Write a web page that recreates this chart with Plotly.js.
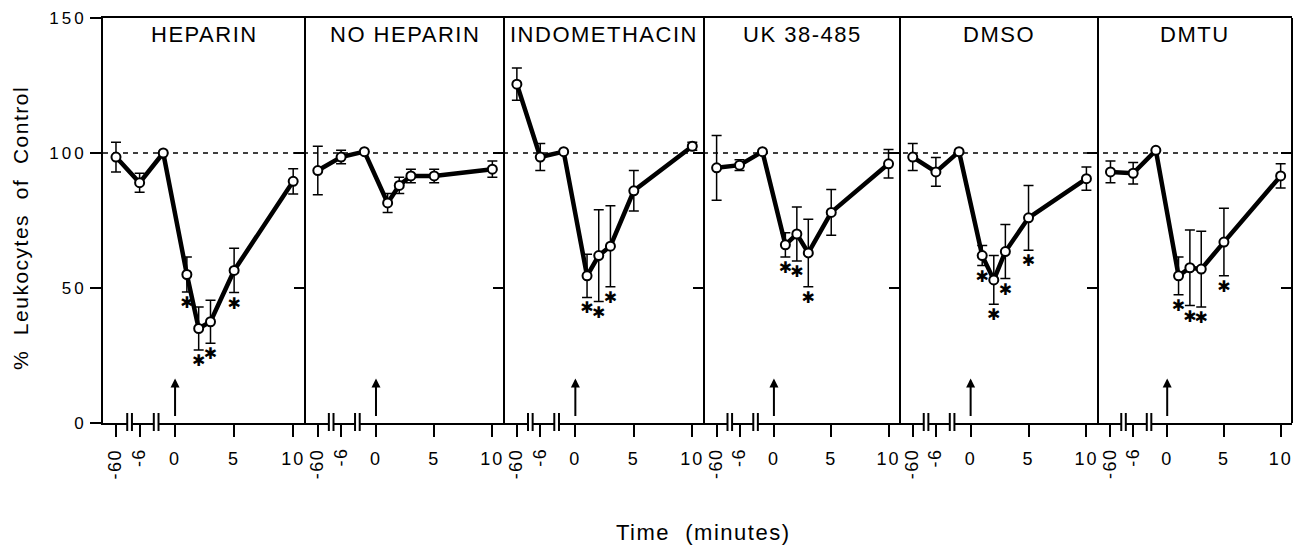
<!DOCTYPE html>
<html>
<head>
<meta charset="utf-8">
<script src="https://cdn.plot.ly/plotly-3.0.1.min.js"></script>
<style>
  html, body { margin: 0; padding: 0; background: #fff; }
  #chart { width: 1296px; height: 546px; }
  .yaxislayer-above text { letter-spacing: 3px; }
  .xaxislayer-above text { letter-spacing: 2px; }
  .annotation-text { letter-spacing: 1.5px; }
</style>
</head>
<body>
<div id="chart"></div>
<script>
// ---------------- data ----------------
const panelTitles = ["HEPARIN", "NO HEPARIN", "INDOMETHACIN", "UK 38-485", "DMSO", "DMTU"];
const times = [-60, -6, -1, 1, 2, 3, 5, 10];          // minutes
const tickTimes = [-60, -6, 0, 5, 10];
const tickLabels = ["-60", "-6", "0", "5", "10"];
const tickRotated = [true, true, false, false, false];
const yTicks = [0, 50, 100, 150];
const innerTicks = [50, 100];

const heparinMean = [98.5, 89, 100, 55, 35, 37.5, 56.5, 89.5];
const heparinErr  = [5.5, 3.5, 0, 6.5, 8, 8, 8.2, 4.7];
const heparinSig  = [0, 0, 0, 1, 1, 1, 1, 0];

const noHeparinMean = [93.5, 98.5, 100.5, 81.5, 88, 91.5, 91.5, 94];
const noHeparinErr  = [9, 2.5, 0, 3.5, 3, 2.5, 2.5, 3];
const noHeparinSig  = [0, 0, 0, 0, 0, 0, 0, 0];

const indoMean = [125.5, 98.5, 100.5, 54.5, 62, 65.5, 86, 102.5];
const indoErr  = [6, 5, 0, 8, 17, 15, 7.5, 1.5];
const indoSig  = [0, 0, 0, 1, 1, 1, 0, 0];

const ukMean = [94.5, 95.5, 100.5, 66, 70, 63, 78, 96];
const ukErr  = [12, 2, 0, 4.5, 10, 12.5, 8.5, 5.3];
const ukSig  = [0, 0, 0, 1, 1, 1, 0, 0];

const dmsoMean = [98.5, 93, 100.5, 62, 53, 63.5, 76, 90.5];
const dmsoErr  = [5, 5.3, 0, 3.7, 9, 10, 12, 4.3];
const dmsoSig  = [0, 0, 0, 1, 1, 1, 1, 0];

const dmtuMean = [93, 92.5, 101, 54.5, 57.5, 57, 67, 91.5];
const dmtuErr  = [4, 4, 0, 7, 14, 14, 12.5, 4.5];
const dmtuSig  = [0, 0, 0, 1, 1, 1, 1, 0];

const panelMeans = [heparinMean, noHeparinMean, indoMean, ukMean, dmsoMean, dmtuMean];
const panelErrs  = [heparinErr, noHeparinErr, indoErr, ukErr, dmsoErr, dmtuErr];
const panelSigs  = [heparinSig, noHeparinSig, indoSig, ukSig, dmsoSig, dmtuSig];

// ---------------- broken time scale ----------------
const scaleDomain = [-60, -6, -1, 10];
const scaleRange  = [-5, -3, -1, 10];
function timeScale(t) {
  for (let i = 0; i < scaleDomain.length - 1; i++) {
    const d0 = scaleDomain[i], d1 = scaleDomain[i + 1];
    if (t <= d1 || i === scaleDomain.length - 2) {
      const r0 = scaleRange[i], r1 = scaleRange[i + 1];
      return r0 + (t - d0) * (r1 - r0) / (d1 - d0);
    }
  }
}
const breakPositions = [-3.85, -1.6];   // axis-break marks (scaled units)
const breakHalf = 0.2;

// ---------------- geometry / style ----------------
const W = 1296, H = 546;
const M = { l: 103, r: 4, t: 18, b: 123 };
const plotH = H - M.t - M.b;
const plotW = W - M.l - M.r;
const nP = panelTitles.length;
const panelEdgesPx = [103, 305, 504, 704, 900, 1098, 1292];
const xRange = [-6.1, 11.0];
const yRange = [0, 150];
const unitsPerPx = (yRange[1] - yRange[0]) / plotH;
const FONT = "Liberation Sans, Arial, sans-serif";

const traces = [];
const layout = {
  width: W, height: H,
  margin: M,
  paper_bgcolor: "#fff", plot_bgcolor: "#fff",
  showlegend: false,
  font: { family: FONT, color: "#000" },
  shapes: [], annotations: []
};

layout.yaxis = {
  domain: [0, 1], range: yRange, anchor: "x",
  showline: true, linewidth: 2, linecolor: "#000",
  ticks: "outside", ticklen: 11, tickwidth: 2, tickcolor: "#000",
  tickvals: yTicks, ticktext: yTicks.map(String),
  tickfont: { size: 17, family: FONT, color: "#000" },
  showgrid: false, zeroline: false, fixedrange: true
};

for (let k = 0; k < nP; k++) {
  const sx = k === 0 ? "" : String(k + 1);
  const xName = "x" + sx;
  const xKey = "xaxis" + sx;

  layout[xKey] = {
    domain: [(panelEdgesPx[k] - M.l) / plotW, (panelEdgesPx[k + 1] - M.l) / plotW],
    range: xRange, anchor: "y",
    showline: true, linewidth: 2, linecolor: "#000", mirror: true,
    ticks: "outside", ticklen: 12, tickwidth: 2, tickcolor: "#000",
    tickvals: tickTimes.map(timeScale),
    ticktext: tickLabels.map((s, i) => tickRotated[i] ? "" : s),
    tickangle: 0, ticklabelstandoff: 6,
    tickfont: { size: 18, family: FONT, color: "#000" },
    showgrid: false, zeroline: false, fixedrange: true
  };

  const mean = panelMeans[k], err = panelErrs[k], sig = panelSigs[k];
  const xs = times.map(timeScale);

  traces.push({
    type: "scatter", mode: "lines+markers",
    x: xs, y: mean, xaxis: xName, yaxis: "y",
    line: { color: "#000", width: 4.5 },
    marker: { symbol: "circle", size: 9, color: "#fff", line: { color: "#000", width: 2 } },
    error_y: { type: "data", array: err.map(e => e > 0 ? e : null), visible: true,
               color: "#000", thickness: 1.5, width: 5 },
    hoverinfo: "skip", cliponaxis: false
  });

  const ax = [], ay = [];
  times.forEach((t, i) => {
    if (sig[i]) { ax.push(timeScale(t)); ay.push(mean[i] - err[i] - 12 * unitsPerPx); }
  });
  if (ax.length) {
    traces.push({
      type: "scatter", mode: "text",
      x: ax, y: ay, xaxis: xName, yaxis: "y",
      text: ax.map(() => "✱"), textposition: "middle center",
      textfont: { size: 16, color: "#000", family: "DejaVu Sans" },
      hoverinfo: "skip", cliponaxis: false
    });
  }

  // right border of the panel with inward ticks
  layout.shapes.push({
    type: "line", xref: xName + " domain", yref: "paper",
    x0: 1, x1: 1, y0: 0, y1: 1,
    line: { color: "#000", width: 2 }, layer: "above"
  });
  innerTicks.forEach(v => {
    layout.shapes.push({
      type: "line", xref: xName + " domain", yref: "y",
      xsizemode: "pixel", xanchor: 1, x0: -11, x1: 0, y0: v, y1: v,
      line: { color: "#000", width: 2 }, layer: "above"
    });
  });

  // panel title
  layout.annotations.push({
    text: panelTitles[k], xref: xName + " domain", yref: "paper",
    x: 0.5, y: (plotH - (35 - M.t)) / plotH, xanchor: "center", yanchor: "middle",
    showarrow: false, font: { size: 22, family: FONT, color: "#000" }
  });

  // rotated tick labels
  tickTimes.forEach((t, i) => {
    if (!tickRotated[i]) return;
    layout.annotations.push({
      text: tickLabels[i], xref: xName, yref: "paper",
      x: timeScale(t), y: -23 / plotH, xanchor: "center", yanchor: "top",
      textangle: -90, showarrow: false,
      font: { size: 18, family: FONT, color: "#000" }
    });
  });

  // injection arrow at time 0
  layout.annotations.push({
    text: "", xref: xName, yref: "y", axref: xName, ayref: "y",
    x: timeScale(0), y: 16.5, ax: timeScale(0), ay: 2,
    showarrow: true, arrowhead: 2, arrowsize: 0.9, arrowwidth: 2, arrowcolor: "#000",
    standoff: 0, startstandoff: 0
  });

  // axis breaks
  breakPositions.forEach(b => {
    layout.shapes.push({
      type: "line", xref: xName, yref: "paper",
      x0: b - breakHalf, x1: b + breakHalf, y0: 0, y1: 0,
      line: { color: "#fff", width: 4 }, layer: "above"
    });
    [-breakHalf, breakHalf].forEach(d => {
      layout.shapes.push({
        type: "line", xref: xName, yref: "paper",
        x0: b + d, x1: b + d, y0: -8 / plotH, y1: 10 / plotH,
        line: { color: "#000", width: 2 }, layer: "above"
      });
    });
  });
}

// dashed 100% reference line
layout.shapes.push({
  type: "line", xref: "paper", yref: "y", x0: 0, x1: 1, y0: 100, y1: 100,
  line: { color: "#000", width: 1.5, dash: "5px,5px" }, layer: "below"
});

// axis titles
layout.annotations.push({
  text: "%  Leukocytes  of  Control", xref: "paper", yref: "paper",
  x: (20 - M.l) / plotW, y: (plotH - (228 - M.t)) / plotH,
  xanchor: "center", yanchor: "middle", textangle: -90, showarrow: false,
  font: { size: 21, family: FONT, color: "#000" }
});
layout.annotations.push({
  text: "Time  (minutes)", xref: "paper", yref: "paper",
  x: (703 - M.l) / plotW, y: -(532 - M.t - plotH) / plotH,
  xanchor: "center", yanchor: "middle", showarrow: false,
  font: { size: 22, family: FONT, color: "#000" }
});

Plotly.newPlot("chart", traces, layout, { displayModeBar: false, staticPlot: true });
</script>
</body>
</html>
